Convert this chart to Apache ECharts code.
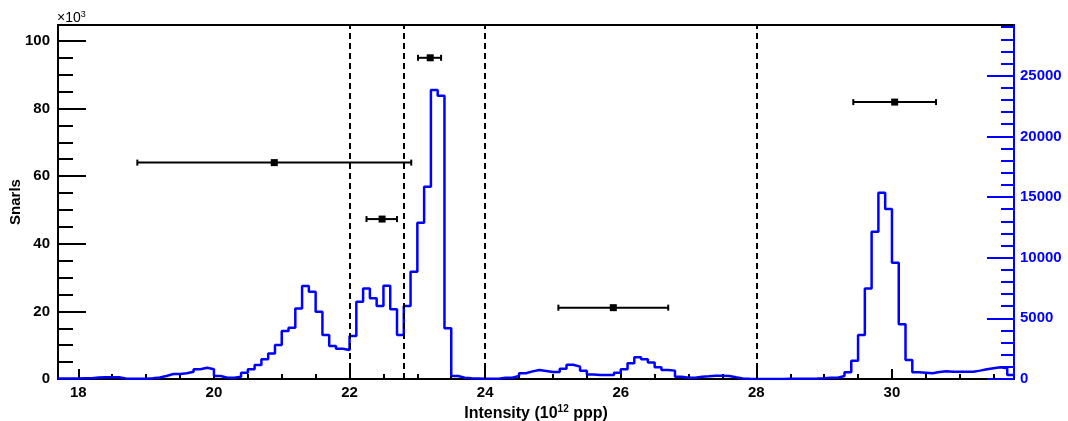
<!DOCTYPE html>
<html>
<head>
<meta charset="utf-8">
<script src="https://cdn.jsdelivr.net/npm/echarts@6/dist/echarts.min.js"></script>
<style>
    html, body { margin: 0; padding: 0; background: #fff; }
    #main { width: 1068px; height: 421px; }
</style>
</head>
<body>
<div id="main"></div>
<script>
// histogram: bins of 0.1 starting at 17.7 (right axis, blue)
var binLo = 17.7;
var binWidth = 0.1;
var histCounts = [
    40, 50, 50, 60, 60, 130, 150, 150, 140, 40,
    30, 20, 20, 60, 120, 250, 410, 410, 470, 600,
    800, 930, 800, 250, 110, 110, 190, 520, 800, 1150,
    1620, 2110, 2800, 3960, 4230, 5820, 7660, 7200, 5550, 3630,
    2720, 2500, 2390, 3540, 6370, 7470, 6650, 6020, 7690, 5740,
    3630, 6020, 8850, 12880, 15850, 23820, 23350, 4180, 250, 100,
    60, 40, 20, 20, 30, 110, 110, 250, 470, 630,
    740, 660, 580, 580, 850, 1180, 1020, 690, 380, 330,
    330, 330, 520, 800, 1290, 1790, 1620, 1350, 960, 740,
    690, 190, 110, 110, 190, 220, 270, 270, 250, 140,
    50, 20, 10, 10, 10, 10, 10, 20, 20, 20,
    30, 40, 60, 110, 110, 250, 550, 1510, 3630, 7470,
    12140, 15360, 14010, 9590, 4510, 1570, 550, 520, 470, 580,
    630, 600, 600, 600, 600, 690, 800, 880, 960, 880,
    330
];

// points with horizontal error bars (left axis, x10^3)
var pointX   = [20.89, 22.48, 23.19, 25.89, 30.04];
var pointY   = [64.0, 47.3, 95.0, 21.1, 81.9];
var pointXLo = [18.87, 22.25, 23.01, 25.08, 29.43];
var pointXHi = [22.91, 22.70, 23.35, 26.70, 30.65];

// dashed cut lines
var cutLines = [22, 22.8, 24, 28];

// axis ticks
var xLabels = [18, 20, 22, 24, 26, 28, 30];
var leftLabels = [0, 20, 40, 60, 80, 100];
var rightLabels = [0, 5000, 10000, 15000, 20000, 25000];

var xMin = 17.7, xMax = 31.8;
var leftMax = 104.7, rightMax = 29180;

var xMinor = [];
for (let v = 18; v <= 31.5; v += 0.5) xMinor.push(v);
var leftMinor = [];
for (let v = 5; v <= 100; v += 5) leftMinor.push(v);
var rightMinor = [];
for (let v = 1000; v <= 29000; v += 1000) rightMinor.push(v);

var histData = histCounts.map(function (v, i) {
    return [+(binLo + i * binWidth).toFixed(2), v];
});
histData.push([+(binLo + histCounts.length * binWidth).toFixed(2), histCounts[histCounts.length - 1]]);

var pointData = pointX.map(function (x, i) {
    return [x, pointY[i], pointXLo[i], pointXHi[i]];
});

var font = 'Liberation Sans, Arial, Helvetica, sans-serif';
var blue = '#0000ff';
var plain = function (v) { return String(v); };

var chart = echarts.init(document.getElementById('main'));

chart.setOption({
    animation: false,
    grid: {
        left: 58, right: 54, top: 25, bottom: 42,
        outerBoundsMode: 'none',
        containLabel: false,
        show: true, borderColor: '#000', borderWidth: 2, backgroundColor: 'transparent'
    },
    graphic: [{
        type: 'text',
        left: 57, top: 10,
        style: {
            text: '{a|×10}{b|3}',
            rich: {
                a: { fontFamily: font, fontSize: 14, fill: '#000' },
                b: { fontFamily: font, fontSize: 9, fill: '#000', verticalAlign: 'top', padding: [0, 0, 8, 0] }
            }
        }
    }],
    xAxis: [
        {
            type: 'value', min: xMin, max: xMax, position: 'bottom',
            name: '{a|Intensity (10}{b|12}{a| ppp)}',
            nameLocation: 'middle', nameGap: 25,
            nameMoveOverlap: false,
            nameTextStyle: {
                rich: {
                    a: { fontFamily: font, fontSize: 16, fontWeight: 'bold', color: '#000' },
                    b: { fontFamily: font, fontSize: 10, fontWeight: 'bold', color: '#000', verticalAlign: 'top', padding: [0, 0, 10, 0] }
                }
            },
            axisLine: { onZero: false, lineStyle: { color: '#000', width: 2 } },
            axisTick: { inside: true, length: 10, customValues: xLabels, lineStyle: { color: '#000', width: 2 } },
            axisLabel: { customValues: xLabels, formatter: plain, margin: 6, fontFamily: font, fontSize: 15, fontWeight: 'bold', color: '#000' },
            splitLine: { show: false }
        },
        {
            type: 'value', min: xMin, max: xMax, position: 'bottom',
            axisLine: { show: false },
            axisTick: { inside: true, length: 5, customValues: xMinor, lineStyle: { color: '#000', width: 2 } },
            axisLabel: { show: false },
            splitLine: { show: false }
        }
    ],
    yAxis: [
        {
            type: 'value', min: 0, max: leftMax, position: 'left',
            name: 'Snarls', nameLocation: 'middle', nameGap: 35,
            nameMoveOverlap: false,
            nameTextStyle: { fontFamily: font, fontSize: 15, fontWeight: 'bold', color: '#000' },
            axisLine: { show: true, lineStyle: { color: '#000', width: 2 } },
            axisTick: { inside: true, length: 28, customValues: leftLabels, lineStyle: { color: '#000', width: 2 } },
            axisLabel: { customValues: leftLabels, formatter: plain, margin: 8, fontFamily: font, fontSize: 15, fontWeight: 'bold', color: '#000' },
            splitLine: { show: false }
        },
        {
            type: 'value', min: 0, max: leftMax, position: 'left',
            axisLine: { show: false },
            axisTick: { inside: true, length: 15, customValues: leftMinor, lineStyle: { color: '#000', width: 2 } },
            axisLabel: { show: false },
            splitLine: { show: false }
        },
        {
            type: 'value', min: 0, max: rightMax, position: 'right',
            axisLine: { show: true, lineStyle: { color: blue, width: 2 } },
            axisTick: { inside: true, length: 27, customValues: rightLabels, lineStyle: { color: blue, width: 2 } },
            axisLabel: { customValues: rightLabels, formatter: plain, margin: 6, fontFamily: font, fontSize: 15, fontWeight: 'bold', color: blue },
            splitLine: { show: false }
        },
        {
            type: 'value', min: 0, max: rightMax, position: 'right',
            axisLine: { show: false },
            axisTick: { inside: true, length: 13, customValues: rightMinor, lineStyle: { color: blue, width: 2 } },
            axisLabel: { show: false },
            splitLine: { show: false }
        }
    ],
    series: [
        {
            type: 'line',
            xAxisIndex: 0, yAxisIndex: 2,
            step: 'end',
            symbol: 'none',
            data: histData,
            lineStyle: { color: blue, width: 2.5 },
            markLine: {
                silent: true,
                symbol: 'none',
                label: { show: false },
                lineStyle: { color: '#000', type: [6, 4], width: 2 },
                data: cutLines.map(function (v) { return { xAxis: v }; })
            }
        },
        {
            type: 'custom',
            xAxisIndex: 0, yAxisIndex: 0,
            data: pointData,
            encode: { x: [0, 2, 3], y: 1 },
            renderItem: function (params, api) {
                let c = api.coord([api.value(0), api.value(1)]);
                let lo = api.coord([api.value(2), api.value(1)]);
                let hi = api.coord([api.value(3), api.value(1)]);
                let st = { stroke: '#000', lineWidth: 2 };
                return {
                    type: 'group',
                    children: [
                        { type: 'line', shape: { x1: lo[0], y1: c[1], x2: hi[0], y2: c[1] }, style: st },
                        { type: 'line', shape: { x1: lo[0], y1: c[1] - 3, x2: lo[0], y2: c[1] + 3 }, style: st },
                        { type: 'line', shape: { x1: hi[0], y1: c[1] - 3, x2: hi[0], y2: c[1] + 3 }, style: st },
                        { type: 'rect', shape: { x: c[0] - 3.5, y: c[1] - 3.5, width: 7, height: 7 }, style: { fill: '#000' } }
                    ]
                };
            }
        }
    ]
});
</script>
</body>
</html>
